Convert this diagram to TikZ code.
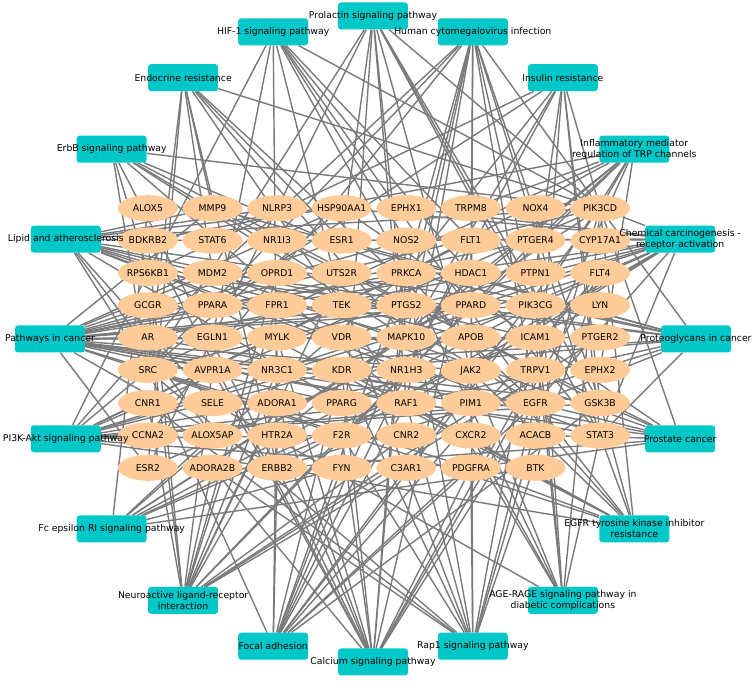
\documentclass[tikz,border=0pt]{standalone}
\usepackage{fontspec}
\setmainfont{DejaVu Sans}
\usepackage{tikz}
\usetikzlibrary{matrix,backgrounds,shapes.geometric}
\definecolor{pwcyan}{RGB}{0,200,200}
\definecolor{genepeach}{RGB}{255,204,153}
\definecolor{edgegrey}{RGB}{122,122,122}

\begin{document}
\begin{tikzpicture}[x=1pt,y=1pt,
  every node/.style={font=\fontsize{9.3}{11}\selectfont},
  gene/.style={ellipse, fill=genepeach, minimum width=60pt, minimum height=26pt, inner sep=0pt,
    execute at begin node={\hbox to 0pt\bgroup\hss}, execute at end node={\hss\egroup}},
  pwbox/.style={rectangle, rounded corners=3pt, fill=pwcyan, minimum width=70pt, minimum height=27pt, inner sep=0pt},
  pwtext/.style={align=center, inner sep=0pt},
  edge/.style={draw=edgegrey, line width=1.4pt}]
\useasboundingbox (-373,-351) rectangle (380,339);

\matrix (m) at (1,1) [matrix of nodes, column sep=4.6pt, row sep=6.3pt, nodes={gene}]{
ALOX5 & MMP9 & NLRP3 & HSP90AA1 & EPHX1 & TRPM8 & NOX4 & PIK3CD\\
BDKRB2 & STAT6 & NR1I3 & ESR1 & NOS2 & FLT1 & PTGER4 & CYP17A1\\
RPS6KB1 & MDM2 & OPRD1 & UTS2R & PRKCA & HDAC1 & PTPN1 & FLT4\\
GCGR & PPARA & FPR1 & TEK & PTGS2 & PPARD & PIK3CG & LYN\\
AR & EGLN1 & MYLK & VDR & MAPK10 & APOB & ICAM1 & PTGER2\\
SRC & AVPR1A & NR3C1 & KDR & NR1H3 & JAK2 & TRPV1 & EPHX2\\
CNR1 & SELE & ADORA1 & PPARG & RAF1 & PIM1 & EGFR & GSK3B\\
CCNA2 & ALOX5AP & HTR2A & F2R & CNR2 & CXCR2 & ACACB & STAT3\\
ESR2 & ADORA2B & ERBB2 & FYN & C3AR1 & PDGFRA & BTK\\
};

\foreach \nm/\ang/\txt in {prl/90/{Prolactin signaling pathway}, hif/108/{HIF-1 signaling pathway},
  endo/126/{Endocrine resistance}, erbb/144/{ErbB signaling pathway},
  lipid/162/{Lipid and atherosclerosis}, cancer/180/{Pathways in cancer},
  pik/198/{PI3K-Akt signaling pathway}, fce/216/{Fc epsilon RI signaling pathway},
  neuro/234/{Neuroactive ligand-receptor\\interaction}, focal/252/{Focal adhesion},
  calc/270/{Calcium signaling pathway}, rap/288/{Rap1 signaling pathway},
  age/306/{AGE-RAGE signaling pathway in\\diabetic complications},
  tki/324/{EGFR tyrosine kinase inhibitor\\resistance}, prost/342/{Prostate cancer},
  proteo/0/{Proteoglycans in cancer}, chem/18/{Chemical carcinogenesis -\\receptor activation},
  trp/36/{Inflammatory mediator\\regulation of TRP channels}, insulin/54/{Insulin resistance},
  hcmv/72/{Human cytomegalovirus infection}}{
  \node[pwbox] (\nm) at (\ang:323pt) {};
  \node[pwtext] (\nm-t) at (\nm) {\txt};
}

\begin{pgfonlayer}{background}
\foreach \g in {1-8,2-4,7-8,8-8,6-1,6-6,7-5,9-1,5-5,4-7,9-4} \draw[edge] (prl) -- (m-\g);
\foreach \g in {1-8,2-5,2-6,3-5,5-2,3-1,7-7,9-3,8-8,4-4} \draw[edge] (hif) -- (m-\g);
\foreach \g in {1-8,2-4,3-2,5-5,6-1,7-5,7-7,9-3,9-1,1-2} \draw[edge] (endo) -- (m-\g);
\foreach \g in {1-8,3-5,3-1,5-5,6-1,7-5,7-7,7-8,9-3} \draw[edge] (erbb) -- (m-\g);
\foreach \g in {1-3,1-4,1-2,5-7,7-2,7-4,5-6,6-5,6-6,8-8,5-5,6-1,1-8,4-7,2-2,8-2} \draw[edge] (lipid) -- (m-\g);
\foreach \g in {1-4,1-8,2-4,2-5,2-7,1-2,3-2,3-5,3-6,4-5,4-6,4-7,5-1,5-2,5-5,5-8,6-6,7-4,7-5,7-6,7-7,7-8,8-8,9-1,9-3,9-6,8-4}
  \draw[edge] (cancer) -- (m-\g);
\foreach \g in {1-8,1-4,2-6,3-1,3-2,3-5,3-8,4-4,4-7,6-4,6-6,7-5,7-7,7-8,8-4,9-3,9-6,8-1} \draw[edge] (pik) -- (m-\g);
\foreach \g in {1-1,1-8,3-5,4-7,4-8,5-5,7-5,9-4,9-7,8-2} \draw[edge] (fce) -- (m-\g);
\foreach \g in {2-1,3-3,3-4,4-1,4-3,2-7,5-8,6-2,6-3,7-1,7-3,8-3,8-4,8-5,9-5,9-2,6-7} \draw[edge] (neuro) -- (m-\g);
\foreach \g in {1-8,2-6,3-5,3-8,4-7,5-3,5-5,6-1,6-4,7-5,7-7,7-8,9-3,9-4,9-6} \draw[edge] (focal) -- (m-\g);
\foreach \g in {2-1,2-5,2-6,3-5,3-8,5-3,6-2,6-4,9-2,8-3,8-4,7-7,9-3,9-6,7-3,6-7} \draw[edge] (calc) -- (m-\g);
\foreach \g in {1-8,2-6,3-5,3-8,4-4,4-7,6-1,6-4,7-5,7-7,7-1,9-2,8-4,9-6} \draw[edge] (rap) -- (m-\g);
\foreach \g in {1-8,1-7,3-5,5-5,5-7,6-6,7-2,8-8,4-7,8-6} \draw[edge] (age) -- (m-\g);
\foreach \g in {1-8,3-1,3-5,6-1,6-4,6-6,7-5,7-7,7-8,8-8,9-3,9-6} \draw[edge] (tki) -- (m-\g);
\foreach \g in {1-8,1-4,3-2,5-1,7-5,7-7,7-8,9-3,9-6,1-2,8-7} \draw[edge] (prost) -- (m-\g);
\foreach \g in {1-8,1-2,2-4,3-2,3-5,3-1,6-4,6-1,9-3,7-7,8-8,7-5,4-7} \draw[edge] (proteo) -- (m-\g);
\foreach \g in {1-4,1-8,2-3,2-4,2-8,5-1,5-4,4-2,6-3,6-1,6-6,7-5,7-7,8-8,9-1,9-3,4-7,1-5} \draw[edge] (chem) -- (m-\g);
\foreach \g in {1-6,2-1,1-8,3-5,4-7,5-5,6-7,6-1,8-3,8-4,2-7,6-8} \draw[edge] (trp) -- (m-\g);
\foreach \g in {1-8,3-7,4-2,3-5,3-1,5-5,7-8,8-8,8-7,6-5} \draw[edge] (insulin) -- (m-\g);
\foreach \g in {1-8,3-6,3-5,3-2,4-5,7-8,7-5,7-7,8-8,6-1,5-5,4-7,8-1,8-6} \draw[edge] (hcmv) -- (m-\g);
\end{pgfonlayer}
\end{tikzpicture}
\end{document}
